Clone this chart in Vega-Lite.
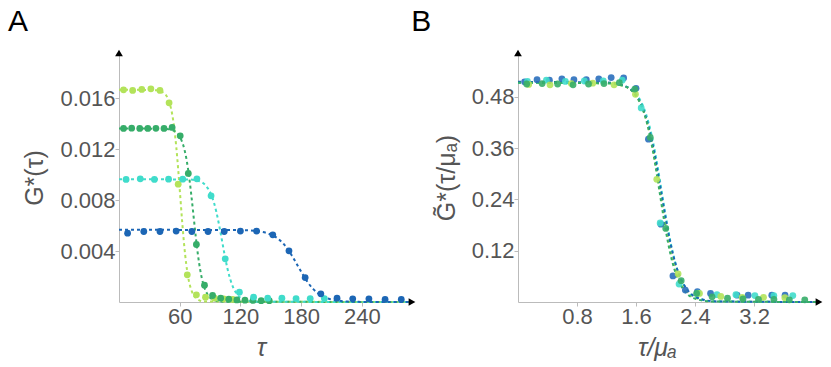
{
  "$schema": "https://vega.github.io/schema/vega-lite/v6.json",
  "background": "white",
  "padding": {"left": 7, "top": 6, "right": 4, "bottom": 4},
  "bounds": "flush",
  "spacing": 106,
  "config": {
    "view": {"stroke": null},
    "axis": {"domainColor": "#bbbbbb", "tickColor": "#bbbbbb", "grid": false, "labelFont": "Liberation Sans", "labelFontSize": 22, "labelColor": "#555555", "titleFont": "Liberation Sans", "titleFontSize": 25, "titleColor": "#555555", "titleFontWeight": "normal", "tickSize": 4, "labelPadding": 0},
    "title": {"font": "Liberation Sans", "fontSize": 30, "fontWeight": "normal", "color": "black", "anchor": "start", "frame": "bounds"}
  },
  "datasets": {
    "lineA": [
      {"s": "lime", "x": 0, "y": 0.01665}, {"s": "lime", "x": 37.1, "y": 0.01661}, {"s": "lime", "x": 44.9, "y": 0.01635}, {"s": "lime", "x": 48.8, "y": 0.01586}, {"s": "lime", "x": 52.7, "y": 0.01467}, {"s": "lime", "x": 54.65, "y": 0.01361}, {"s": "lime", "x": 56.6, "y": 0.01217}, {"s": "lime", "x": 58.55, "y": 0.01036}, {"s": "lime", "x": 60.5, "y": 0.00833}, {"s": "lime", "x": 62.45, "y": 0.00629}, {"s": "lime", "x": 64.4, "y": 0.00448}, {"s": "lime", "x": 66.35, "y": 0.00304}, {"s": "lime", "x": 68.3, "y": 0.00198}, {"s": "lime", "x": 72.2, "y": 0.00079}, {"s": "lime", "x": 76.1, "y": 0.0003}, {"s": "lime", "x": 83.9, "y": 0.00004}, {"s": "lime", "x": 289, "y": 0},
      {"s": "green", "x": 0, "y": 0.01361}, {"s": "green", "x": 46.6, "y": 0.01358}, {"s": "green", "x": 55.6, "y": 0.01337}, {"s": "green", "x": 60.1, "y": 0.01296}, {"s": "green", "x": 64.6, "y": 0.01199}, {"s": "green", "x": 66.85, "y": 0.01113}, {"s": "green", "x": 69.1, "y": 0.00995}, {"s": "green", "x": 71.35, "y": 0.00847}, {"s": "green", "x": 73.6, "y": 0.00681}, {"s": "green", "x": 75.85, "y": 0.00514}, {"s": "green", "x": 78.1, "y": 0.00366}, {"s": "green", "x": 80.35, "y": 0.00248}, {"s": "green", "x": 82.6, "y": 0.00162}, {"s": "green", "x": 87.1, "y": 0.00065}, {"s": "green", "x": 91.6, "y": 0.00024}, {"s": "green", "x": 100.6, "y": 0.00003}, {"s": "green", "x": 289, "y": 0},
      {"s": "turq", "x": 0, "y": 0.00963}, {"s": "turq", "x": 68.8, "y": 0.00961}, {"s": "turq", "x": 79.8, "y": 0.00946}, {"s": "turq", "x": 85.3, "y": 0.00917}, {"s": "turq", "x": 90.8, "y": 0.00848}, {"s": "turq", "x": 93.55, "y": 0.00787}, {"s": "turq", "x": 96.3, "y": 0.00704}, {"s": "turq", "x": 99.05, "y": 0.00599}, {"s": "turq", "x": 101.8, "y": 0.00482}, {"s": "turq", "x": 104.55, "y": 0.00364}, {"s": "turq", "x": 107.3, "y": 0.00259}, {"s": "turq", "x": 110.05, "y": 0.00176}, {"s": "turq", "x": 112.8, "y": 0.00115}, {"s": "turq", "x": 118.3, "y": 0.00046}, {"s": "turq", "x": 123.8, "y": 0.00017}, {"s": "turq", "x": 134.8, "y": 0.00002}, {"s": "turq", "x": 289, "y": 0},
      {"s": "blue", "x": 0, "y": 0.00566}, {"s": "blue", "x": 116.8, "y": 0.00565}, {"s": "blue", "x": 136.8, "y": 0.00556}, {"s": "blue", "x": 146.8, "y": 0.00539}, {"s": "blue", "x": 156.8, "y": 0.00499}, {"s": "blue", "x": 161.8, "y": 0.00463}, {"s": "blue", "x": 166.8, "y": 0.00414}, {"s": "blue", "x": 171.8, "y": 0.00352}, {"s": "blue", "x": 176.8, "y": 0.00283}, {"s": "blue", "x": 181.8, "y": 0.00214}, {"s": "blue", "x": 186.8, "y": 0.00152}, {"s": "blue", "x": 191.8, "y": 0.00103}, {"s": "blue", "x": 196.8, "y": 0.00067}, {"s": "blue", "x": 206.8, "y": 0.00027}, {"s": "blue", "x": 216.8, "y": 0.0001}, {"s": "blue", "x": 236.8, "y": 0.00001}, {"s": "blue", "x": 289, "y": 0}
    ],
    "ptsA": [
      {"s": "lime", "x": 4.5, "y": 0.01664}, {"s": "lime", "x": 13.5, "y": 0.01659}, {"s": "lime", "x": 22.5, "y": 0.01667}, {"s": "lime", "x": 31.5, "y": 0.01672}, {"s": "lime", "x": 40.5, "y": 0.01659}, {"s": "lime", "x": 49.5, "y": 0.01562}, {"s": "lime", "x": 58.5, "y": 0.00924}, {"s": "lime", "x": 67.5, "y": 0.00213}, {"s": "lime", "x": 76.5, "y": 0.00056}, {"s": "lime", "x": 85.5, "y": 0.00038}, {"s": "lime", "x": 94.5, "y": 0.0003}, {"s": "lime", "x": 103.5, "y": 0.00025}, {"s": "lime", "x": 112.5, "y": 0.0002},
      {"s": "green", "x": 4.5, "y": 0.01361}, {"s": "green", "x": 12.5, "y": 0.01363}, {"s": "green", "x": 20.5, "y": 0.01361}, {"s": "green", "x": 28.5, "y": 0.01361}, {"s": "green", "x": 36.5, "y": 0.01362}, {"s": "green", "x": 44.5, "y": 0.01361}, {"s": "green", "x": 52.5, "y": 0.01369}, {"s": "green", "x": 60.5, "y": 0.01303}, {"s": "green", "x": 68.5, "y": 0.01008}, {"s": "green", "x": 76.5, "y": 0.00451}, {"s": "green", "x": 84.5, "y": 0.00132}, {"s": "green", "x": 92.5, "y": 0.00051}, {"s": "green", "x": 100.5, "y": 0.0003}, {"s": "green", "x": 108.5, "y": 0.00022}, {"s": "green", "x": 116.5, "y": 0.00016}, {"s": "green", "x": 124.5, "y": 0.00014}, {"s": "green", "x": 132.5, "y": 0.00012}, {"s": "green", "x": 140.5, "y": 0.0001}, {"s": "green", "x": 148.5, "y": 0.0001},
      {"s": "turq", "x": 7, "y": 0.00961}, {"s": "turq", "x": 21, "y": 0.00966}, {"s": "turq", "x": 35, "y": 0.00961}, {"s": "turq", "x": 49, "y": 0.00963}, {"s": "turq", "x": 63, "y": 0.00963}, {"s": "turq", "x": 77, "y": 0.00966}, {"s": "turq", "x": 91, "y": 0.00833}, {"s": "turq", "x": 105, "y": 0.00339}, {"s": "turq", "x": 119, "y": 0.00077}, {"s": "turq", "x": 133, "y": 0.00038}, {"s": "turq", "x": 147, "y": 0.0003}, {"s": "turq", "x": 161, "y": 0.0003}, {"s": "turq", "x": 175, "y": 0.00027}, {"s": "turq", "x": 189, "y": 0.00027}, {"s": "turq", "x": 203, "y": 0.00027},
      {"s": "blue", "x": 8.5, "y": 0.0054}, {"s": "blue", "x": 24.5, "y": 0.00553}, {"s": "blue", "x": 40.5, "y": 0.00553}, {"s": "blue", "x": 56.5, "y": 0.00556}, {"s": "blue", "x": 72, "y": 0.00553}, {"s": "blue", "x": 88, "y": 0.00553}, {"s": "blue", "x": 104, "y": 0.00553}, {"s": "blue", "x": 120, "y": 0.00556}, {"s": "blue", "x": 136, "y": 0.00556}, {"s": "blue", "x": 152, "y": 0.00527}, {"s": "blue", "x": 168, "y": 0.00401}, {"s": "blue", "x": 184, "y": 0.00192}, {"s": "blue", "x": 199.5, "y": 0.00064}, {"s": "blue", "x": 215.5, "y": 0.0003}, {"s": "blue", "x": 231, "y": 0.00025}, {"s": "blue", "x": 247, "y": 0.00025}, {"s": "blue", "x": 263, "y": 0.0002}, {"s": "blue", "x": 279, "y": 0.0002}
    ],
    "lineB": [
      {"s": "lime", "x": 0, "y": 0.513}, {"s": "lime", "x": 1.21, "y": 0.5117}, {"s": "lime", "x": 1.45, "y": 0.5038}, {"s": "lime", "x": 1.57, "y": 0.4887}, {"s": "lime", "x": 1.69, "y": 0.4519}, {"s": "lime", "x": 1.75, "y": 0.4194}, {"s": "lime", "x": 1.81, "y": 0.375}, {"s": "lime", "x": 1.87, "y": 0.3193}, {"s": "lime", "x": 1.93, "y": 0.2565}, {"s": "lime", "x": 1.99, "y": 0.1937}, {"s": "lime", "x": 2.05, "y": 0.1379}, {"s": "lime", "x": 2.11, "y": 0.0936}, {"s": "lime", "x": 2.17, "y": 0.0611}, {"s": "lime", "x": 2.29, "y": 0.0243}, {"s": "lime", "x": 2.41, "y": 0.0092}, {"s": "lime", "x": 2.65, "y": 0.0013}, {"s": "lime", "x": 4.08, "y": 0},
      {"s": "turq", "x": 0, "y": 0.513}, {"s": "turq", "x": 1.23, "y": 0.5117}, {"s": "turq", "x": 1.47, "y": 0.5038}, {"s": "turq", "x": 1.59, "y": 0.4887}, {"s": "turq", "x": 1.71, "y": 0.4519}, {"s": "turq", "x": 1.77, "y": 0.4194}, {"s": "turq", "x": 1.83, "y": 0.375}, {"s": "turq", "x": 1.89, "y": 0.3193}, {"s": "turq", "x": 1.95, "y": 0.2565}, {"s": "turq", "x": 2.01, "y": 0.1937}, {"s": "turq", "x": 2.07, "y": 0.1379}, {"s": "turq", "x": 2.13, "y": 0.0936}, {"s": "turq", "x": 2.19, "y": 0.0611}, {"s": "turq", "x": 2.31, "y": 0.0243}, {"s": "turq", "x": 2.43, "y": 0.0092}, {"s": "turq", "x": 2.67, "y": 0.0013}, {"s": "turq", "x": 4.08, "y": 0},
      {"s": "blue", "x": 0, "y": 0.515}, {"s": "blue", "x": 1.19, "y": 0.5137}, {"s": "blue", "x": 1.44, "y": 0.5057}, {"s": "blue", "x": 1.565, "y": 0.4906}, {"s": "blue", "x": 1.69, "y": 0.4536}, {"s": "blue", "x": 1.7525, "y": 0.4211}, {"s": "blue", "x": 1.815, "y": 0.3765}, {"s": "blue", "x": 1.8775, "y": 0.3206}, {"s": "blue", "x": 1.94, "y": 0.2575}, {"s": "blue", "x": 2.0025, "y": 0.1944}, {"s": "blue", "x": 2.065, "y": 0.1385}, {"s": "blue", "x": 2.1275, "y": 0.0939}, {"s": "blue", "x": 2.19, "y": 0.0614}, {"s": "blue", "x": 2.315, "y": 0.0244}, {"s": "blue", "x": 2.44, "y": 0.0093}, {"s": "blue", "x": 2.69, "y": 0.0013}, {"s": "blue", "x": 4.08, "y": 0},
      {"s": "green", "x": 0, "y": 0.513}, {"s": "green", "x": 1.23, "y": 0.5117}, {"s": "green", "x": 1.46, "y": 0.5038}, {"s": "green", "x": 1.575, "y": 0.4887}, {"s": "green", "x": 1.69, "y": 0.4519}, {"s": "green", "x": 1.7475, "y": 0.4194}, {"s": "green", "x": 1.805, "y": 0.375}, {"s": "green", "x": 1.8625, "y": 0.3193}, {"s": "green", "x": 1.92, "y": 0.2565}, {"s": "green", "x": 1.9775, "y": 0.1937}, {"s": "green", "x": 2.035, "y": 0.1379}, {"s": "green", "x": 2.0925, "y": 0.0936}, {"s": "green", "x": 2.15, "y": 0.0611}, {"s": "green", "x": 2.265, "y": 0.0243}, {"s": "green", "x": 2.38, "y": 0.0092}, {"s": "green", "x": 2.61, "y": 0.0013}, {"s": "green", "x": 4.08, "y": 0}
    ],
    "ptsB": [
      {"s": "blue", "x": 0.089, "y": 0.515}, {"s": "blue", "x": 0.258, "y": 0.52}, {"s": "blue", "x": 0.426, "y": 0.519}, {"s": "blue", "x": 0.595, "y": 0.522}, {"s": "blue", "x": 0.758, "y": 0.52}, {"s": "blue", "x": 0.926, "y": 0.52}, {"s": "blue", "x": 1.095, "y": 0.522}, {"s": "blue", "x": 1.263, "y": 0.525}, {"s": "blue", "x": 1.432, "y": 0.524}, {"s": "blue", "x": 1.6, "y": 0.5}, {"s": "blue", "x": 1.768, "y": 0.381}, {"s": "blue", "x": 1.937, "y": 0.182}, {"s": "blue", "x": 2.1, "y": 0.061}, {"s": "blue", "x": 2.268, "y": 0.028}, {"s": "blue", "x": 2.432, "y": 0.024}, {"s": "blue", "x": 2.61, "y": 0.02}, {"s": "blue", "x": 2.97, "y": 0.016}, {"s": "blue", "x": 3.12, "y": 0.016}, {"s": "blue", "x": 3.44, "y": 0.016}, {"s": "blue", "x": 3.62, "y": 0.016},
      {"s": "turq", "x": 0.128, "y": 0.516}, {"s": "turq", "x": 0.385, "y": 0.519}, {"s": "turq", "x": 0.642, "y": 0.516}, {"s": "turq", "x": 0.899, "y": 0.517}, {"s": "turq", "x": 1.156, "y": 0.517}, {"s": "turq", "x": 1.413, "y": 0.519}, {"s": "turq", "x": 1.67, "y": 0.454}, {"s": "turq", "x": 1.927, "y": 0.185}, {"s": "turq", "x": 2.183, "y": 0.042}, {"s": "turq", "x": 2.44, "y": 0.021}, {"s": "turq", "x": 2.697, "y": 0.017}, {"s": "turq", "x": 2.954, "y": 0.017}, {"s": "turq", "x": 3.211, "y": 0.015}, {"s": "turq", "x": 3.468, "y": 0.015}, {"s": "turq", "x": 3.725, "y": 0.015},
      {"s": "lime", "x": 0.145, "y": 0.509}, {"s": "lime", "x": 0.434, "y": 0.508}, {"s": "lime", "x": 0.723, "y": 0.511}, {"s": "lime", "x": 1.013, "y": 0.512}, {"s": "lime", "x": 1.302, "y": 0.508}, {"s": "lime", "x": 1.592, "y": 0.486}, {"s": "lime", "x": 1.881, "y": 0.287}, {"s": "lime", "x": 2.17, "y": 0.066}, {"s": "lime", "x": 2.46, "y": 0.02}, {"s": "lime", "x": 2.749, "y": 0.013}, {"s": "lime", "x": 3.039, "y": 0.011}, {"s": "lime", "x": 3.328, "y": 0.011}, {"s": "lime", "x": 3.617, "y": 0.01},
      {"s": "green", "x": 0.118, "y": 0.51}, {"s": "green", "x": 0.327, "y": 0.511}, {"s": "green", "x": 0.537, "y": 0.51}, {"s": "green", "x": 0.746, "y": 0.508}, {"s": "green", "x": 0.956, "y": 0.51}, {"s": "green", "x": 1.165, "y": 0.511}, {"s": "green", "x": 1.374, "y": 0.513}, {"s": "green", "x": 1.584, "y": 0.498}, {"s": "green", "x": 1.793, "y": 0.385}, {"s": "green", "x": 2.003, "y": 0.172}, {"s": "green", "x": 2.212, "y": 0.05}, {"s": "green", "x": 2.421, "y": 0.02}, {"s": "green", "x": 2.631, "y": 0.012}, {"s": "green", "x": 2.84, "y": 0.009}, {"s": "green", "x": 3.05, "y": 0.007}, {"s": "green", "x": 3.259, "y": 0.006}, {"s": "green", "x": 3.469, "y": 0.006}, {"s": "green", "x": 3.678, "y": 0.005}, {"s": "green", "x": 3.887, "y": 0.005}
    ],
    "arrA": [{"x": 0, "y": 0.01953, "d": "up"}, {"x": 289.6, "y": 0, "d": "right"}],
    "arrB": [{"x": 0, "y": 0.5825, "d": "up"}, {"x": 4.08, "y": 0, "d": "right"}]
  },
  "hconcat": [
    {
      "title": {"text": "A", "dx": -15, "offset": 13},
      "width": 293,
      "height": 249,
      "encoding": {
        "x": {"field": "x", "type": "quantitative", "scale": {"domain": [0, 289.6], "nice": false, "zero": false}, "axis": {"values": [60, 120, 180, 240], "title": "τ", "titleFontStyle": "italic", "titlePadding": 8, "titleX": 142}},
        "y": {"field": "y", "type": "quantitative", "scale": {"domain": [0, 0.01953], "nice": false, "zero": false}, "axis": {"values": [0.004, 0.008, 0.012, 0.016], "format": ".3f", "title": "G*(τ)", "titlePadding": 12}}
      },
      "layer": [
        {"data": {"name": "lineA"}, "mark": {"type": "line", "strokeDash": [3, 3], "strokeWidth": 2, "interpolate": "monotone"},
         "encoding": {"color": {"field": "s", "type": "nominal", "scale": {"domain": ["lime", "green", "turq", "blue"], "range": ["#b3e35a", "#36ad69", "#40dccb", "#1c66b5"]}, "legend": null}}},
        {"data": {"name": "ptsA"}, "mark": {"type": "circle", "size": 46, "opacity": 1},
         "encoding": {"color": {"field": "s", "type": "nominal", "scale": {"domain": ["lime", "green", "turq", "blue"], "range": ["#b3e35a", "#36ad69", "#40dccb", "#1c66b5"]}, "legend": null}}},
        {"data": {"name": "arrA"}, "mark": {"type": "point", "filled": true, "color": "black", "size": 60, "opacity": 1},
         "encoding": {"shape": {"field": "d", "type": "nominal", "scale": {"domain": ["up", "right"], "range": ["triangle-up", "triangle-right"]}, "legend": null}}}
      ]
    },
    {
      "title": {"text": "B", "dx": -23, "offset": 13},
      "width": 301,
      "height": 249,
      "encoding": {
        "x": {"field": "x", "type": "quantitative", "scale": {"domain": [0, 4.08], "nice": false, "zero": false}, "axis": {"values": [0.8, 1.6, 2.4, 3.2], "format": ".1f", "title": "τ/μₐ", "titleFontStyle": "italic", "titlePadding": 8, "titleX": 139}},
        "y": {"field": "y", "type": "quantitative", "scale": {"domain": [0, 0.5825], "nice": false, "zero": false}, "axis": {"values": [0.12, 0.24, 0.36, 0.48], "format": ".2f", "title": "G̃*(τ/μₐ)", "titlePadding": 12}}
      },
      "layer": [
        {"data": {"name": "lineB"}, "mark": {"type": "line", "strokeDash": [3, 3], "strokeWidth": 2, "interpolate": "monotone"},
         "encoding": {"color": {"field": "s", "type": "nominal", "scale": {"domain": ["lime", "green", "turq", "blue"], "range": ["#b3e35a", "#36ad69", "#40dccb", "#1c66b5"]}, "legend": null}, "detail": {"field": "s"}}},
        {"data": {"name": "ptsB"}, "mark": {"type": "circle", "size": 46, "opacity": 0.9},
         "encoding": {"color": {"field": "s", "type": "nominal", "scale": {"domain": ["lime", "green", "turq", "blue"], "range": ["#b3e35a", "#36ad69", "#40dccb", "#2a6fbd"]}, "legend": null}}},
        {"data": {"name": "arrB"}, "mark": {"type": "point", "filled": true, "color": "black", "size": 60, "opacity": 1},
         "encoding": {"shape": {"field": "d", "type": "nominal", "scale": {"domain": ["up", "right"], "range": ["triangle-up", "triangle-right"]}, "legend": null}}}
      ],
      "resolve": {"scale": {"color": "independent"}}
    }
  ]
}
